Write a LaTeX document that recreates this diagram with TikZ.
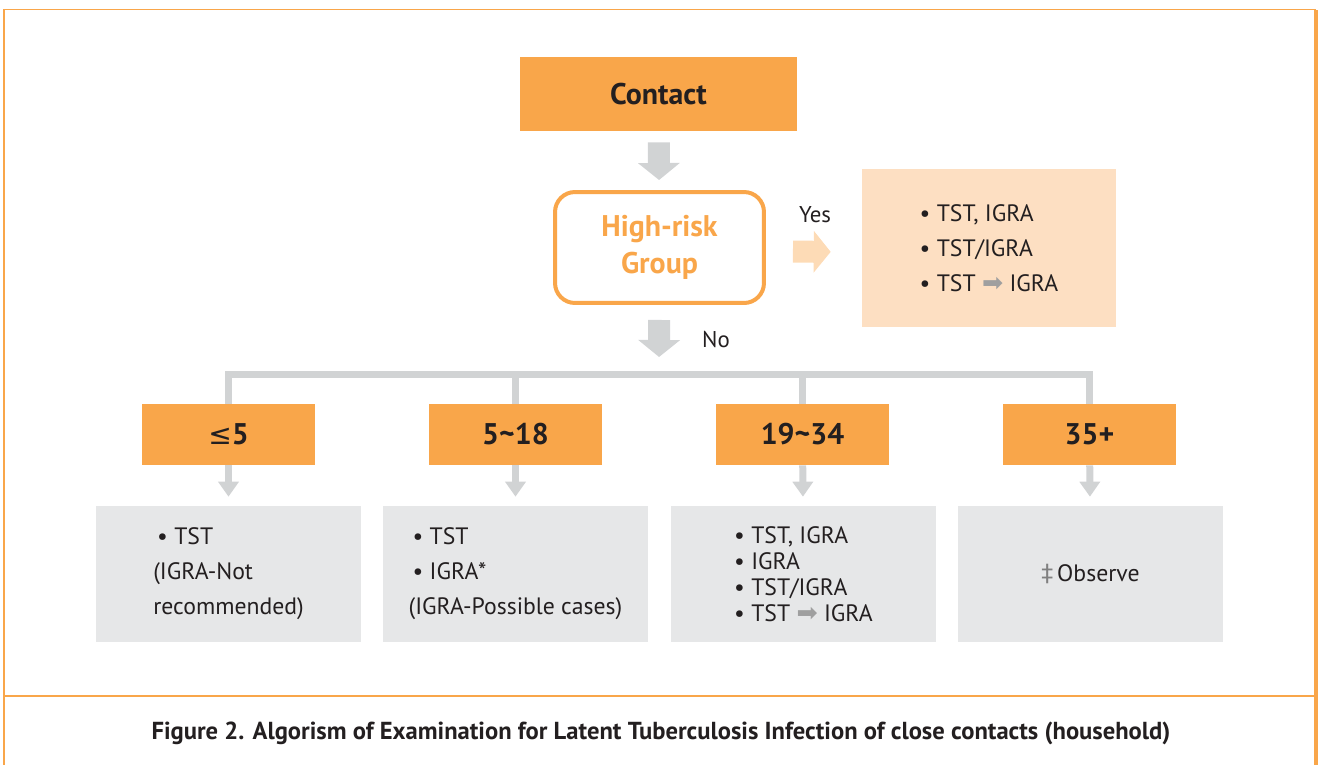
\documentclass[tikz,border=0pt]{standalone}
\usepackage{fontspec}
\setmainfont{PT Sans}
\newfontfamily\symfont{DejaVu Sans}
\usepackage{tikz}
\usetikzlibrary{arrows.meta,positioning,calc}
\definecolor{ltborange}{HTML}{F9A64A}
\definecolor{ltbpeach}{HTML}{FDDFC2}
\definecolor{ltbpeacharrow}{HTML}{FDDBB6}
\definecolor{ltbgray}{HTML}{D1D3D4}
\definecolor{ltbbox}{HTML}{E6E7E8}
\definecolor{ltbtext}{HTML}{231F20}
\newcommand{\thenarrow}{{\symfont\color{gray!75}\raisebox{-0.05ex}{\Large ➡}}}
\newcommand{\dagmark}{{\symfont\color{gray}‡}}

\tikzset{
  agebox/.style={fill=ltborange, inner sep=0pt, minimum width=3.46cm, minimum height=1.22cm,
    text=ltbtext, font=\bfseries\fontsize{17}{20}\selectfont},
  resbox/.style={fill=ltbbox, inner sep=0pt, minimum width=5.3cm, minimum height=2.72cm,
    text=ltbtext, align=left, font=\fontsize{13.5}{19.9}\selectfont},
  bigarrow/.style={ltbgray, line width=0.44cm, -{Triangle[width=0.82cm,length=0.34cm]}},
  agearrow/.style={ltbgray, line width=0.14cm, -{Triangle[width=0.4cm,length=0.3cm]}},
  branch/.style={ltbgray, line width=0.14cm},
}

\begin{document}
\begin{tikzpicture}[x=0.02cm,y=-0.02cm]
  \useasboundingbox (0,0) rectangle (1321,764);

  % frame and caption rule
  \draw[ltborange, line width=1.1pt] (4,775) -- (4,9.5) -- (1316,9.5);
  \draw[ltborange, line width=2pt] (1316,10) -- (1316,775);
  \draw[ltborange, line width=1.1pt] (4,696) -- (1316,696);

  % top of the tree
  \node[fill=ltborange, inner sep=0pt, minimum width=5.54cm, minimum height=1.48cm,
        text=ltbtext, font=\bfseries\fontsize{17}{20}\selectfont] (contact) at (658.5,94) {Contact};
  \node[draw=ltborange, line width=0.08cm, rounded corners=0.4cm, fill=white, inner sep=0pt,
        minimum width=4.18cm, minimum height=2.22cm, align=center, text=ltborange,
        font=\bfseries\fontsize{17}{21}\selectfont] (risk) at (659.5,247.5) {High-risk\\Group};
  \node[fill=ltbpeach, inner sep=0pt, minimum width=5.08cm, minimum height=3.16cm,
        align=left, text=ltbtext, font=\fontsize{13.5}{19.9}\selectfont] (yesbox) at (989,248)
        {• TST, IGRA\\• TST/IGRA\\• TST \thenarrow\ IGRA};
  \node[text=ltbtext, font=\fontsize{13}{15}\selectfont] (yes) at (815,215) {Yes};
  \node[text=ltbtext, font=\fontsize{13}{15}\selectfont] (no) at (716,340) {No};
  \coordinate (split) at (659,374);

  \draw[bigarrow, shorten <=0.22cm, shorten >=0.2cm] (contact) -- (risk);
  \draw[bigarrow, ltbpeacharrow, shorten <=0.54cm, shorten >=0.62cm] ($(risk.east)+(0,4)$) -- ($(yesbox.west)+(0,4)$);
  \draw[bigarrow, shorten <=0.3cm, shorten >=0.34cm] (risk) -- (split);

  % age groups
  \node[agebox] (age1) at (228.5,434.5) {{\symfont\mdseries\fontsize{16}{20}\selectfont ≤}5};
  \node[agebox] (age2) at (515.5,434.5) {5\textasciitilde18};
  \node[agebox] (age3) at (802.5,434.5) {19\textasciitilde34};
  \node[agebox] (age4) at (1089.5,434.5) {35+};

  \draw[branch] (age1.north) |- (split) -| (age4.north);
  \draw[branch] (age2.north) -- (age2.north |- split);
  \draw[branch] (age3.north) -- (age3.north |- split);

  % tests for each age group
  \node[resbox] (res1) at (228.5,574) {\,• TST\\(IGRA-Not\\recommended)};
  \node[resbox] (res2) at (515.5,574) {\,• TST\\\,• IGRA*\\(IGRA-Possible cases)};
  \node[resbox, font=\fontsize{13.5}{14.8}\selectfont] (res3) at (803.5,574)
        {• TST, IGRA\\• IGRA\\• TST/IGRA\\• TST \thenarrow\ IGRA};
  \node[resbox] (res4) at (1090.5,574) {\dagmark\,Observe};

  \foreach \i in {1,...,4}{
    \draw[agearrow, shorten >=0.18cm] (age\i) -- (res\i);
  }

  \node[text=ltbtext, font=\bfseries\fontsize{14}{16}\selectfont] (caption) at (661,733)
        {Figure 2. Algorism of Examination for Latent Tuberculosis Infection of close contacts (household)};
\end{tikzpicture}
\end{document}
